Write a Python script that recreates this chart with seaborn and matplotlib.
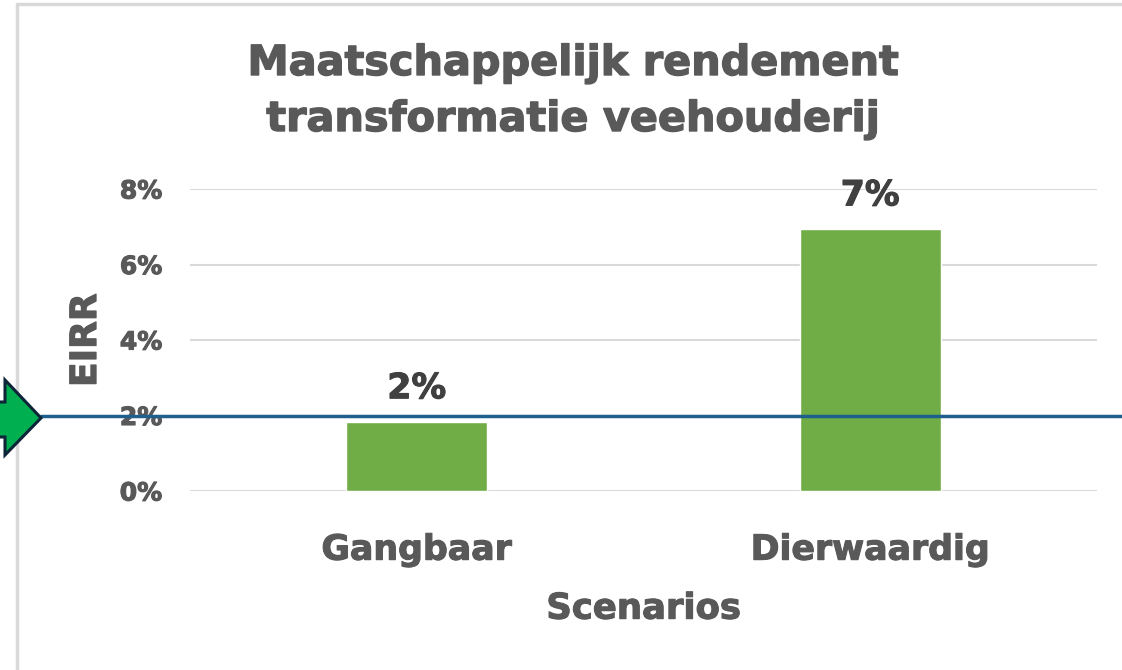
import matplotlib
matplotlib.use("Agg")
import matplotlib.pyplot as plt
import matplotlib.patheffects as pe
import seaborn as sns
import pandas as pd
from matplotlib.patches import Polygon
from matplotlib.lines import Line2D
from matplotlib.ticker import PercentFormatter

categories = ["Gangbaar", "Dierwaardig"]
values = [0.0183, 0.0694]
value_labels = ["2%", "7%"]
yticks = [0.0, 0.02, 0.04, 0.06, 0.08]
threshold = 0.02
title_lines = ["Maatschappelijk rendement", "transformatie veehouderij"]

sns.set_theme(style="white")
plt.rcParams["font.family"] = ["DejaVu Sans"]
plt.rcParams["font.weight"] = "bold"

GRAY = "#595959"
W, H = 1122, 670
fig = plt.figure(figsize=(W / 100, H / 100), dpi=100)
ax = fig.add_axes([190 / W, 1 - 491 / H, (1097 - 190) / W, (491 - 189) / H])

def heavy(c, lw=0.8):
    return [pe.withStroke(linewidth=lw, foreground=c)]

df = pd.DataFrame({"Scenario": categories, "EIRR": values})
sns.barplot(data=df, x="Scenario", y="EIRR", color="#70AD47", saturation=1,
            width=0.31, ax=ax, zorder=3)

ax.set_ylim(0, 0.08)
ax.set_yticks(yticks)
ax.yaxis.set_major_formatter(PercentFormatter(1.0, decimals=0))
ax.grid(axis="y", color="#D9D9D9", linewidth=1.5, zorder=0)
ax.set_axisbelow(True)
for s in ax.spines.values():
    s.set_visible(False)
ax.tick_params(axis="y", length=0, pad=20, labelsize=18, labelcolor=GRAY)
ax.tick_params(axis="x", length=0, pad=30, labelsize=25, labelcolor=GRAY)
for lab in ax.get_xticklabels() + ax.get_yticklabels():
    lab.set_fontweight("bold")
    lab.set_path_effects(heavy(GRAY))

ax.set_xlabel("Scenarios", fontsize=25.5, fontweight="bold", color=GRAY, labelpad=18,
              path_effects=heavy(GRAY))
ax.set_ylabel("EIRR", fontsize=26, fontweight="bold", color=GRAY, labelpad=12,
              path_effects=heavy(GRAY))

texts = ax.bar_label(ax.containers[0], labels=value_labels, padding=12, fontsize=25,
                     fontweight="bold", color="#404040")
for t in texts:
    t.set_path_effects(heavy("#404040"))

# threshold line across the figure
ax.axhline(threshold, xmin=(41 - 190) / 907, xmax=(1122 - 190) / 907,
           color="#1F5F8B", linewidth=2.5, clip_on=False, zorder=5)

for line, base in zip(title_lines, [75, 131]):
    fig.text(573 / W, 1 - base / H, line, ha="center", va="baseline", fontsize=29.8,
             fontweight="bold", color=GRAY, path_effects=heavy(GRAY, 1.0))

# chart border (left and top)
fig.add_artist(Line2D([16.5 / W, 16.5 / W], [0, 1 - 4 / H], transform=fig.transFigure,
                      color="#D9D9D9", linewidth=2.5))
fig.add_artist(Line2D([16.5 / W, 1], [1 - 4 / H, 1 - 4 / H], transform=fig.transFigure,
                      color="#D9D9D9", linewidth=2.5))

# green arrow pointing to the threshold line
pts = [(-5, 402), (5, 402), (5, 380), (41, 418), (5, 455), (5, 437), (-5, 437)]
arrow = Polygon([(x / W, 1 - y / H) for x, y in pts], closed=True,
                transform=fig.transFigure, facecolor="#00B050", edgecolor="#0D2538",
                linewidth=2.2, zorder=10, clip_on=False)
fig.add_artist(arrow)

fig.savefig("out.png", dpi=100)
